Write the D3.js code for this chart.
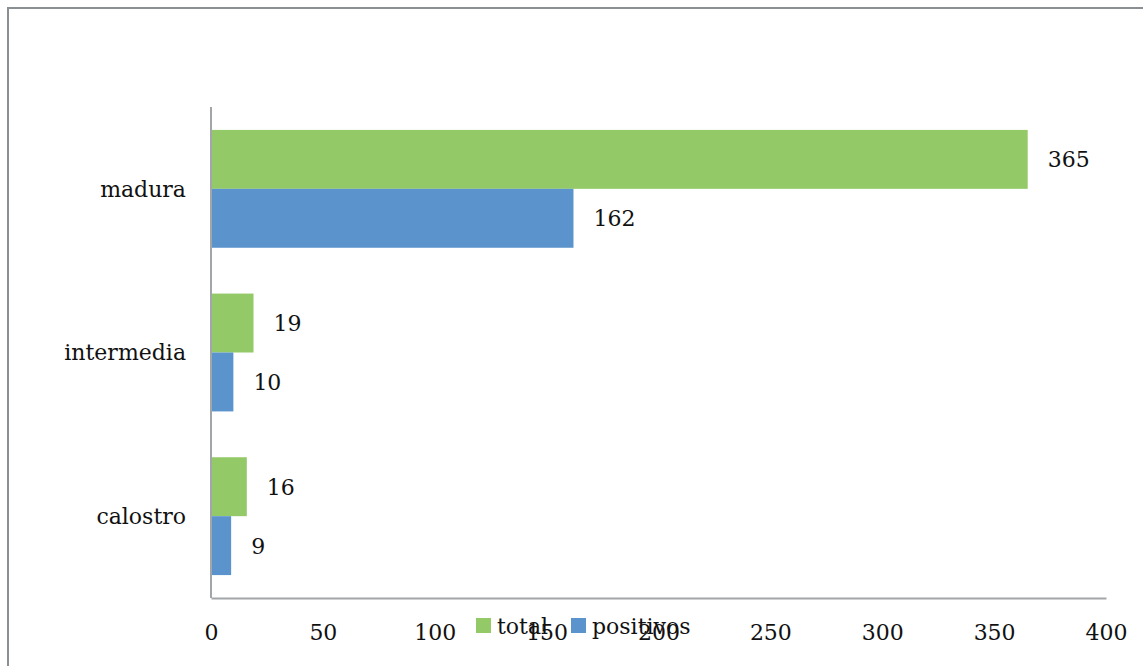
<!DOCTYPE html>
<html>
<head>
<meta charset="utf-8">
<script src="https://cdn.jsdelivr.net/npm/d3@7"></script>
<style>
  html, body { margin: 0; padding: 0; background: #fff; }
  svg text { font-family: "DejaVu Serif", serif; font-size: 22px; fill: #111; }
</style>
</head>
<body>
<svg id="chart" width="1143" height="666"></svg>
<script>
// Categories listed top to bottom
const categories = ["madura", "intermedia", "calostro"];
const seriesNames = ["total", "positivos"];
const totalValues = [365, 19, 16];
const positivosValues = [162, 10, 9];
const xTicks = [0, 50, 100, 150, 200, 250, 300, 350, 400];
const colors = { total: "#93c966", positivos: "#5b93cc" };

const svg = d3.select("#chart");

// Outer frame
svg.append("rect")
  .attr("x", 8).attr("y", 8)
  .attr("width", 1160).attr("height", 700)
  .attr("fill", "none")
  .attr("stroke", "#8a8f93")
  .attr("stroke-width", 2);

const plot = { left: 211, right: 1106, top: 107, bottom: 598 };

const x = d3.scaleLinear().domain([0, 400]).range([plot.left, plot.right]);
const y0 = d3.scaleBand().domain(categories)
  .range([plot.top, plot.bottom])
  .paddingInner(0.28).paddingOuter(0.14);
const y1 = d3.scaleBand().domain(seriesNames).range([0, y0.bandwidth()]);

const rows = categories.map((c, i) => ({
  cat: c,
  vals: [
    { key: "total", value: totalValues[i] },
    { key: "positivos", value: positivosValues[i] }
  ]
}));

const groups = svg.append("g").selectAll("g")
  .data(rows).join("g")
  .attr("transform", d => `translate(0,${y0(d.cat)})`);

groups.selectAll("rect")
  .data(d => d.vals).join("rect")
  .attr("x", x(0))
  .attr("y", d => y1(d.key))
  .attr("width", d => x(d.value) - x(0))
  .attr("height", y1.bandwidth())
  .attr("fill", d => colors[d.key]);

groups.selectAll("text.val")
  .data(d => d.vals).join("text")
  .attr("class", "val")
  .attr("x", d => x(d.value) + 20)
  .attr("y", d => y1(d.key) + y1.bandwidth() / 2)
  .attr("dy", "0.36em")
  .text(d => d.value);

// Category labels
svg.append("g").selectAll("text")
  .data(categories).join("text")
  .attr("x", 186)
  .attr("y", d => y0(d) + y0.bandwidth() / 2)
  .attr("dy", "0.36em")
  .attr("text-anchor", "end")
  .text(d => d);

// X axis: line plus labels, no tick marks
const xAxis = d3.axisBottom(x).tickValues(xTicks).tickSize(0).tickPadding(26);
const gx = svg.append("g").attr("transform", `translate(0,${plot.bottom})`).call(xAxis);
gx.select(".domain").attr("stroke", "#a3a6a8").attr("stroke-width", 2);
gx.selectAll("text").attr("font-family", "DejaVu Serif, serif").attr("font-size", 22).attr("fill", "#111");

// Y axis line
svg.append("line")
  .attr("x1", plot.left).attr("x2", plot.left)
  .attr("y1", plot.top).attr("y2", plot.bottom)
  .attr("stroke", "#a3a6a8").attr("stroke-width", 2);

// Legend
const legendPos = [476, 571];
const legend = svg.append("g").selectAll("g")
  .data(seriesNames).join("g")
  .attr("transform", (d, i) => `translate(${legendPos[i]},618)`);
legend.append("rect").attr("width", 15).attr("height", 15).attr("fill", d => colors[d]);
legend.append("text").attr("x", 21).attr("y", 8).attr("dy", "0.36em").text(d => d);
</script>
</body>
</html>
